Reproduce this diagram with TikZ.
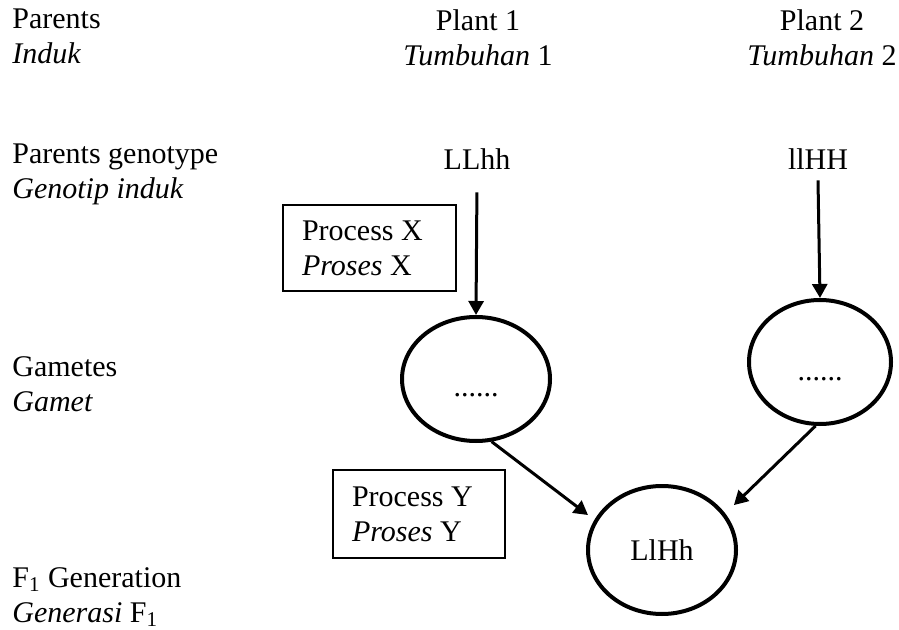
\documentclass[tikz,border=0pt]{standalone}
\usepackage{fontspec}
\setmainfont{Liberation Serif}
\usetikzlibrary{arrows.meta,shapes.geometric}
\tikzset{
  txt/.style={font=\fontsize{15}{17.5}\selectfont, inner sep=0pt},
  lbl/.style={txt, align=left, anchor=base west},
  head/.style={txt, align=center, anchor=base},
  procbox/.style={draw, line width=1pt, font=\fontsize{15}{17.5}\selectfont, align=flush left, inner xsep=9.5pt, inner ysep=0pt, anchor=center},
  gamete/.style={ellipse, draw, line width=2pt, font=\fontsize{15}{17.5}\selectfont, inner sep=0pt},
  arr/.style={-{Triangle[length=7pt,width=7.5pt]}, line width=1.5pt},
}
\begin{document}
\begin{tikzpicture}[x=0.5pt,y=-0.5pt]
\useasboundingbox (0,0) rectangle (899,630);
% left labels (anchored at the baseline of the last line)
\node[lbl] (parents) at (12,64) {Parents\\\textit{Induk}};
\node[lbl] (pgen) at (12,199) {Parents genotype\\\textit{Genotip induk}};
\node[lbl] (gam) at (12,412) {Gametes\\\textit{Gamet}};
\node[lbl] (f1gen) at (12,622) {F\textsubscript{1} Generation\\\textit{Generasi} F\textsubscript{1}};
% headings
\node[head] (plant1) at (478,66) {Plant 1\\\textit{Tumbuhan} 1};
\node[head] (plant2) at (822,66) {Plant 2\\\textit{Tumbuhan} 2};
% genotypes
\node[txt, anchor=base, inner sep=5pt] (geno1) at (477,170) {LLhh};
\node[txt, anchor=base, inner sep=5pt] (geno2) at (818,170) {llHH};
% process boxes
\node[procbox, text width=67.5pt, minimum height=43pt] (procx) at (369.5,248) {Process X\\\textit{Proses} X};
\node[procbox, text width=67pt, minimum height=44pt] (procy) at (419,514) {Process Y\\\textit{Proses} Y};
% gametes
\node[gamete, minimum width=74pt, minimum height=62pt, text height=18pt, text depth=0pt] (g1) at (476,379) {......};
\node[gamete, minimum width=71pt, minimum height=62pt, text height=18pt, text depth=0pt] (g2) at (820,362) {......};
% offspring
\node[gamete, minimum width=74pt, minimum height=64pt] (f1) at (662,550) {LlHh};
% arrows
\draw[arr, shorten <=6pt] (geno1.south) -- (g1.north);
\draw[arr] (geno2.south) -- (g2.north);
\draw[arr, shorten >=4pt] (g1.-76) -- (f1.156);
\draw[arr, shorten >=6pt] (g2.-94) -- (f1.30);
\end{tikzpicture}
\end{document}
